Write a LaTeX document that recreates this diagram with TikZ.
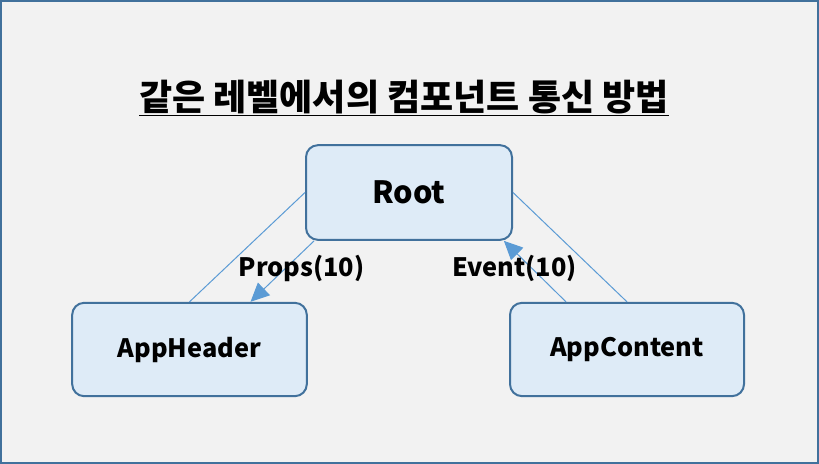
\documentclass[tikz,border=0pt]{standalone}
\usepackage{xcolor}
\usepackage{fontspec}
\setmainfont{Noto Sans CJK KR}
\usetikzlibrary{arrows.meta}
\definecolor{framecolor}{HTML}{41719C}
\definecolor{pagecolor}{HTML}{F2F2F2}
\definecolor{boxfillcolor}{HTML}{DEEBF7}
\definecolor{boxlinecolor}{HTML}{41719C}
\definecolor{linkcolor}{HTML}{5B9BD5}

\begin{document}
\begin{tikzpicture}[x=0.75pt, y=-0.75pt,
    comp/.style={draw=boxlinecolor, fill=boxfillcolor, line width=1.5pt,
        rounded corners=9pt, font=\bfseries\fontsize{19}{22}\selectfont},
    link/.style={draw=linkcolor, line width=0.75pt},
    flow/.style={link, -{Triangle[length=14pt, width=13pt]}},
    tag/.style={font=\bfseries\fontsize{19}{22}\selectfont, inner sep=0pt}]

    % Page
    \useasboundingbox (0,0) rectangle (819,464);
    \draw[framecolor, fill=pagecolor, line width=1.5pt] (1,1) rectangle (818,463);

    % Title
    \node[font=\bfseries\fontsize{27}{32}\selectfont] (title) at (404,98)
        {\underline{같은 레벨에서의 컴포넌트 통신 방법}};

    % Components
    \node[comp, minimum width=154.5pt, minimum height=71pt,
        font=\bfseries\fontsize{23}{26}\selectfont] (root) at (409,192.5) {Root};
    \node[comp, minimum width=176pt, minimum height=70pt] (header) at (189.5,349.5) {AppHeader};
    \node[comp, minimum width=175.5pt, minimum height=70pt] (content) at (627,349.5) {AppContent};

    % Connectors
    \draw[link] (root.west) -- (header.north);
    \draw[link] (root.east) -- (content.north);
    \draw[flow] (root.207) -- (header.38);
    \draw[flow] (content.142) -- (root.333);

    % Labels
    \node[tag] (props) at (301.5,268) {Props(10)};
    \node[tag] (event) at (514.5,268) {Event(10)};

\end{tikzpicture}
\end{document}
